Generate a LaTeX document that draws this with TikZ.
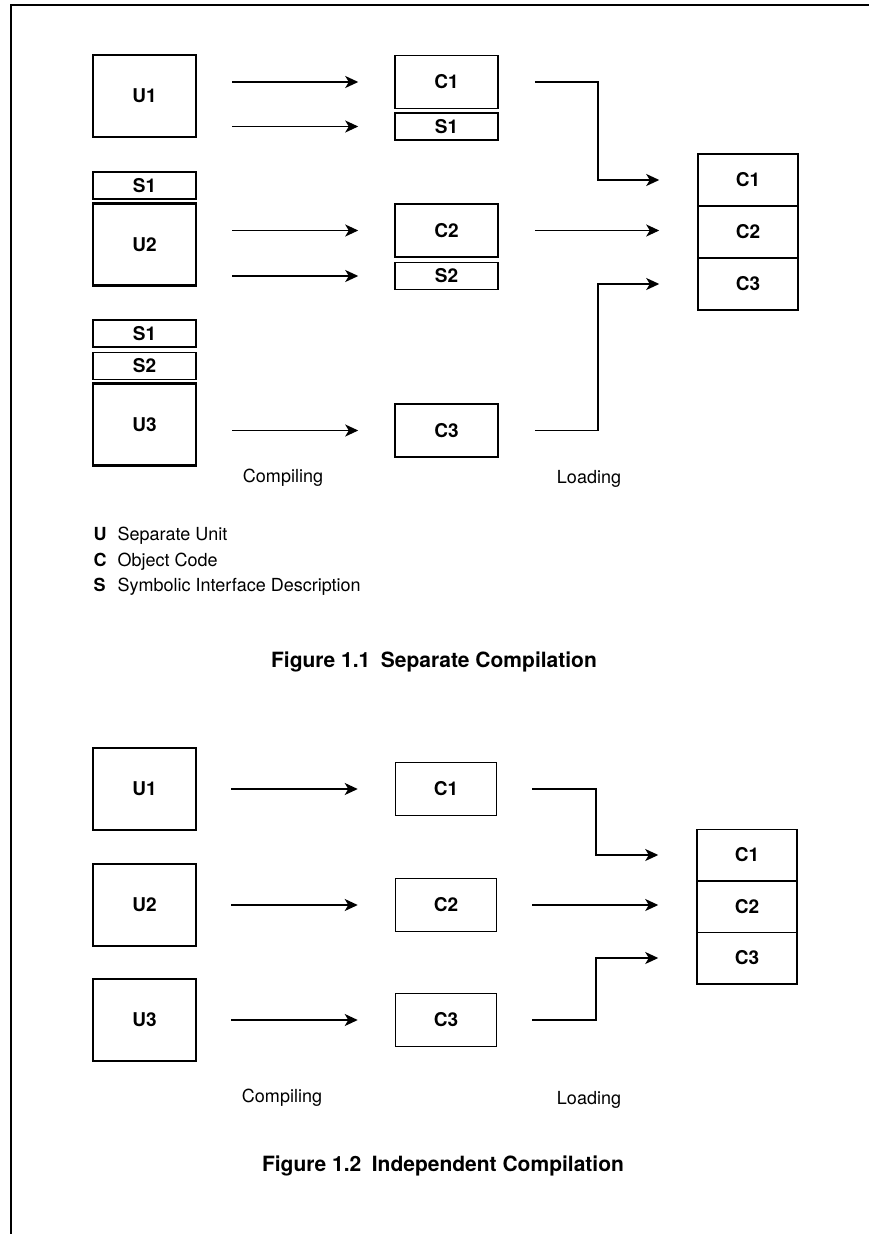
\documentclass[tikz,border=0pt]{standalone}
\usepackage{fontspec}
\setmainfont{TeX Gyre Heros}
\usetikzlibrary{arrows.meta, calc}
\newcommand{\txtsize}{\fontsize{18}{20}\selectfont}
\tikzset{
  every picture/.style={line width=1.4pt},
  unit/.style={draw, line width=2.6pt, minimum width=103pt, minimum height=82pt, font=\fontsize{19}{21}\selectfont\bfseries},
  code/.style={draw, line width=1.5pt, minimum width=103pt, minimum height=53pt, font=\fontsize{19}{21}\selectfont\bfseries},
  sym/.style={code, minimum height=27pt},
  slot/.style={draw, line width=1.5pt, minimum width=100pt, minimum height=52pt, font=\fontsize{19}{21}\selectfont\bfseries},
  arrow/.style={-{Stealth[length=13pt, width=12pt, inset=3.5pt]}, line width=1.5pt},
  stage/.style={anchor=base, font=\txtsize},
  legend/.style={anchor=base west, inner sep=0pt, font=\txtsize},
  caption/.style={anchor=base, font=\fontsize{21}{23}\selectfont\bfseries},
}

\begin{document}
\begin{tikzpicture}[x=1pt, y=-1pt]
  \useasboundingbox (0,0) rectangle (869,1234);
  \draw[line width=1.5pt] (11,1234) -- (11,5) -- (869,5);

  % Figure 1.1
  \node[unit] (a-U1) at (144.5,96) {U1};
  \node[code] (a-C1) at (446.5,82) {C1};
  \node[sym] (a-S1) at (446.5,126.5) {S1};
  \node[sym] (a-S1u2) at (144.5,185.5) {S1};
  \node[unit] (a-U2) at (144.5,244.5) {U2};
  \node[code] (a-C2) at (446.5,230.5) {C2};
  \node[sym] (a-S2) at (446.5,276) {S2};
  \node[sym] (a-S1u3) at (144.5,333.5) {S1};
  \node[sym] (a-S2u3) at (144.5,366) {S2};
  \node[unit] (a-U3) at (144.5,424.5) {U3};
  \node[code] (a-C3) at (446.5,430.5) {C3};
  \foreach \i/\y in {1/180, 2/232, 3/284}
    \node[slot] (a-L\i) at (748,\y) {C\i};
  \foreach \t in {C1, S1, C2, S2, C3}
    \draw[arrow, shorten <=35pt, shorten >=36pt] (a-U1.east |- a-\t.west) -- (a-\t.west);
  \coordinate (a-bend) at (598,0);
  \draw[arrow, shorten <=36pt, shorten >=38pt] (a-C1.east) -- (a-C1.east -| a-bend) |- (a-L1.west);
  \draw[arrow, shorten <=36pt, shorten >=38pt] (a-C2.east) -- (a-L2.west |- a-C2.east);
  \draw[arrow, shorten <=36pt, shorten >=38pt] (a-C3.east) -- (a-C3.east -| a-bend) |- (a-L3.west);
  \node[stage] (a-comp) at (283,482) {Compiling};
  \node[stage] (a-load) at (589,483) {Loading};
  \foreach \k/\txt/\y in {U/Separate Unit/540, C/Object Code/566, S/Symbolic Interface Description/591} {
    \node[legend, font=\txtsize\bfseries] (key-\k) at (93,\y) {\k};
    \node[legend] (key-\k-txt) at (117,\y) {\txt};
  }
  \node[caption] (cap-a) at (434,667) {Figure 1.1\enspace Separate Compilation};

  % Figure 1.2
  \foreach \i/\y in {1/789, 2/905, 3/1020} {
    \node[unit] (b-U\i) at (144.5,\y) {U\i};
    \node[code, minimum width=101pt] (b-C\i) at (446,\y) {C\i};
    \draw[arrow, shorten <=34pt, shorten >=37pt] (b-U\i) -- (b-C\i);
  }
  \foreach \i/\y in {1/855, 2/906.5, 3/958}
    \node[slot, minimum height=51.5pt] (b-L\i) at (747,\y) {C\i};
  \coordinate (b-bend) at (596,0);
  \draw[arrow, shorten <=35pt, shorten >=38pt] (b-C1.east) -- (b-C1.east -| b-bend) |- (b-L1.west);
  \draw[arrow, shorten <=35pt, shorten >=38pt] (b-C2.east) -- (b-L2.west |- b-C2.east);
  \draw[arrow, shorten <=35pt, shorten >=38pt] (b-C3.east) -- (b-C3.east -| b-bend) |- (b-L3.west);
  \node[stage] (b-comp) at (282,1102) {Compiling};
  \node[stage] (b-load) at (589,1104) {Loading};
  \node[caption] (cap-b) at (443,1171) {Figure 1.2\enspace Independent Compilation};
\end{tikzpicture}
\end{document}
